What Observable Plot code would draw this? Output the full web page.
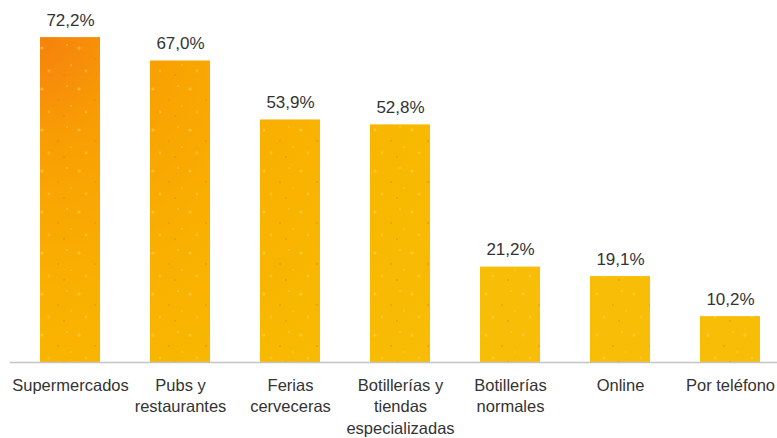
<!DOCTYPE html>
<html>
<head>
<meta charset="utf-8">
<script src="https://cdn.jsdelivr.net/npm/d3@7"></script>
<script src="https://cdn.jsdelivr.net/npm/@observablehq/plot@0.6"></script>
<style>
  html, body { margin: 0; padding: 0; background: #fff; }
  #chart { width: 777px; height: 438px; }
  svg { font-family: "Liberation Sans", Arial, sans-serif; }
</style>
</head>
<body>
<div id="chart"></div>
<script>
const categories = [
  "Supermercados",
  "Pubs y\nrestaurantes",
  "Ferias\ncerveceras",
  "Botillerías y\ntiendas\nespecializadas",
  "Botillerías\nnormales",
  "Online",
  "Por teléfono"
];
const values = [72.2, 67.0, 53.9, 52.8, 21.2, 19.1, 10.2];
const valueLabels = ["72,2%", "67,0%", "53,9%", "52,8%", "21,2%", "19,1%", "10,2%"];

const data = categories.map((c, i) => ({cat: c, value: values[i], label: valueLabels[i]}));

const svg = Plot.plot({
  width: 777,
  height: 438,
  marginLeft: 10,
  marginRight: 0,
  marginTop: 0,
  marginBottom: 76,
  style: {fontFamily: '"Liberation Sans", Arial, sans-serif', background: "#fff"},
  x: {domain: categories, range: [14.5, 784.5], paddingInner: 0.455, paddingOuter: 0.2275, axis: null},
  y: {domain: [0, 80], range: [362, 2], axis: null},
  marks: [
    Plot.barY(data, {x: "cat", y: "value", fill: "url(#beer)"}),
    Plot.barY(data, {x: "cat", y: "value", fill: "url(#drops)"}),
    Plot.ruleY([0], {stroke: "#c4c4c4", strokeWidth: 1.6}),
    Plot.text(data, {x: "cat", y: "value", text: "label", lineAnchor: "bottom", dy: -12, fontSize: 17, fill: "#333"}),
    Plot.text(data, {x: "cat", y: 0, text: "cat", lineAnchor: "top", dy: 13, fontSize: 16.5, lineHeight: 1.3, fill: "#333"})
  ]
});

const defs = `
<defs>
  <radialGradient id="beer" gradientUnits="userSpaceOnUse" cx="30" cy="30" r="520" fx="30" fy="30">
    <stop offset="0" stop-color="#f5800a"/>
    <stop offset="0.1" stop-color="#f78c0a"/>
    <stop offset="0.2" stop-color="#f89c04"/>
    <stop offset="0.3" stop-color="#f9a402"/>
    <stop offset="0.5" stop-color="#f9b000"/>
    <stop offset="0.75" stop-color="#f8b800"/>
    <stop offset="1" stop-color="#f8bd06"/>
  </radialGradient>
  <pattern id="drops" patternUnits="userSpaceOnUse" width="37" height="41">
    <circle cx="5" cy="7" r="1.6" fill="#ffd35a" opacity="0.55"/>
    <circle cx="21" cy="18" r="1.2" fill="#e38a00" opacity="0.45"/>
    <circle cx="30" cy="4" r="1" fill="#ffd35a" opacity="0.5"/>
    <circle cx="12" cy="30" r="1.4" fill="#ffd35a" opacity="0.45"/>
    <circle cx="27" cy="34" r="0.9" fill="#e07a00" opacity="0.5"/>
    <circle cx="34" cy="24" r="1.1" fill="#ffd35a" opacity="0.4"/>
  </pattern>
</defs>`;
svg.insertAdjacentHTML("afterbegin", defs);
document.getElementById("chart").appendChild(svg);
</script>
</body>
</html>
